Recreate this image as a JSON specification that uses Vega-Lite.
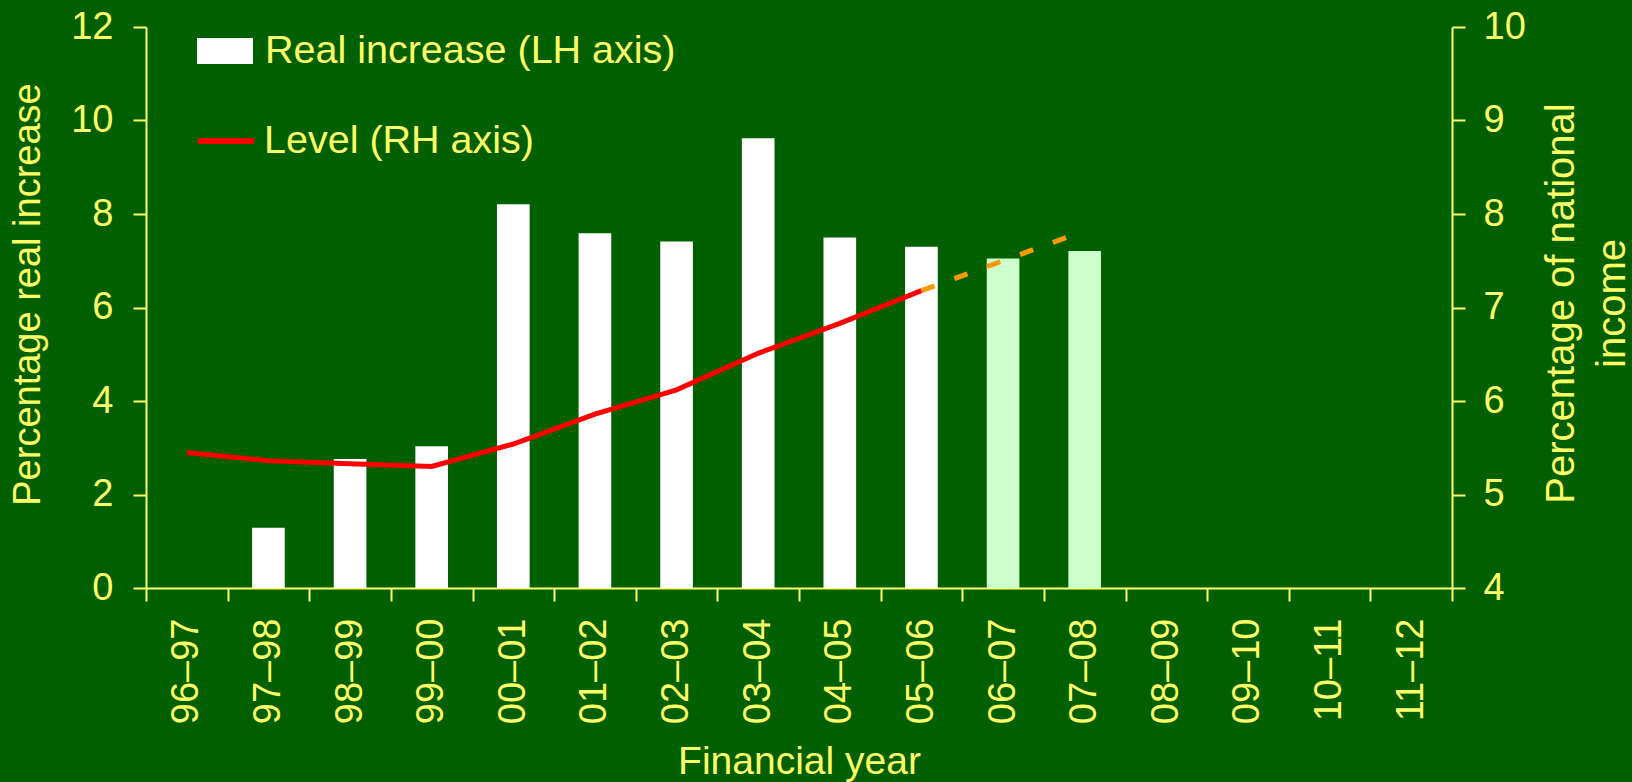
{
  "$schema": "https://vega.github.io/schema/vega-lite/v6.json",
  "width": 1306,
  "height": 561,
  "autosize": {"type": "none"},
  "padding": {"left": 146, "top": 27, "right": 180, "bottom": 194},
  "background": "#006000",
  "config": {
    "font": "Liberation Sans",
    "view": {"stroke": null},
    "axis": {
      "domainColor": "#FFFF66", "domainWidth": 2,
      "tickColor": "#FFFF66", "tickWidth": 2, "tickSize": 13,
      "labelColor": "#FFFF66", "labelFontSize": 38, "labelFont": "Liberation Sans",
      "titleColor": "#FFFF66", "titleFontSize": 38, "titleFont": "Liberation Sans",
      "titleFontWeight": "normal", "grid": false
    },
    "legend": {
      "labelFont": "Liberation Sans", "labelFontSize": 39.5, "labelColor": "#FFFF66",
      "labelLimit": 900, "padding": 0
    }
  },
  "datasets": {
    "bars": [
      {"year": "97–98", "increase": 1.29, "status": "Real increase (LH axis)"},
      {"year": "98–99", "increase": 2.76, "status": "Real increase (LH axis)"},
      {"year": "99–00", "increase": 3.03, "status": "Real increase (LH axis)"},
      {"year": "00–01", "increase": 8.21, "status": "Real increase (LH axis)"},
      {"year": "01–02", "increase": 7.59, "status": "Real increase (LH axis)"},
      {"year": "02–03", "increase": 7.41, "status": "Real increase (LH axis)"},
      {"year": "03–04", "increase": 9.62, "status": "Real increase (LH axis)"},
      {"year": "04–05", "increase": 7.50, "status": "Real increase (LH axis)"},
      {"year": "05–06", "increase": 7.30, "status": "Real increase (LH axis)"},
      {"year": "06–07", "increase": 7.05, "status": "Projected"},
      {"year": "07–08", "increase": 7.21, "status": "Projected"}
    ],
    "level": [
      {"year": "96–97", "level": 5.45, "segment": "actual"},
      {"year": "97–98", "level": 5.36, "segment": "actual"},
      {"year": "98–99", "level": 5.33, "segment": "actual"},
      {"year": "99–00", "level": 5.30, "segment": "actual"},
      {"year": "00–01", "level": 5.54, "segment": "actual"},
      {"year": "01–02", "level": 5.86, "segment": "actual"},
      {"year": "02–03", "level": 6.12, "segment": "actual"},
      {"year": "03–04", "level": 6.51, "segment": "actual"},
      {"year": "04–05", "level": 6.83, "segment": "actual"},
      {"year": "05–06", "level": 7.18, "segment": "actual"},
      {"year": "05–06", "level": 7.18, "segment": "projected"},
      {"year": "06–07", "level": 7.50, "segment": "projected"},
      {"year": "07–08", "level": 7.82, "segment": "projected"}
    ]
  },
  "layer": [
    {
      "data": {"name": "bars"},
      "mark": {"type": "bar", "width": {"band": 0.4}},
      "encoding": {
        "x": {
          "field": "year", "type": "ordinal", "sort": null,
          "scale": {"domain": ["96–97","97–98","98–99","99–00","00–01","01–02","02–03","03–04","04–05","05–06","06–07","07–08","08–09","09–10","10–11","11–12"], "paddingInner": 0, "paddingOuter": 0},
          "axis": {"title": "Financial year", "titleFontSize": 39, "labelAngle": -90, "tickBand": "extent", "labelPadding": 17, "titlePadding": 19}
        },
        "y": {
          "field": "increase", "type": "quantitative",
          "scale": {"domain": [0, 12], "nice": false},
          "axis": {"title": "Percentage real increase", "values": [0, 2, 4, 6, 8, 10, 12], "labelPadding": 20, "titlePadding": 23, "titleY": 267}
        },
        "fill": {
          "field": "status", "type": "nominal",
          "scale": {"domain": ["Real increase (LH axis)", "Projected"], "range": ["#FFFFFF", "#CCFFCC"]},
          "legend": {"orient": "none", "legendX": 51, "legendY": -4, "values": ["Real increase (LH axis)"], "title": null, "symbolType": "M-1,-0.464H1V0.464H-1Z", "symbolSize": 3136, "symbolStrokeWidth": 0, "symbolOpacity": 1, "labelOffset": 12}
        }
      }
    },
    {
      "data": {"name": "level"},
      "layer": [
        {
          "transform": [{"filter": "datum.segment === 'actual'"}],
          "mark": {"type": "line", "strokeWidth": 5, "strokeCap": "butt"},
          "encoding": {
            "x": {"field": "year", "type": "ordinal", "sort": null},
            "y": {
              "field": "level", "type": "quantitative",
              "scale": {"domain": [4, 10], "nice": false, "zero": false},
              "axis": {"orient": "right", "title": ["Percentage of national", "income"], "titleFontSize": 40, "titleAngle": 270, "titleAlign": "center", "titleBaseline": "alphabetic", "titleX": 121, "titleY": 276, "titleLineHeight": 51, "values": [4, 5, 6, 7, 8, 9, 10], "format": "d", "labelPadding": 18}
            },
            "stroke": {
              "datum": "Level (RH axis)", "type": "nominal",
              "scale": {"range": ["#FF0000"]},
              "legend": {"orient": "none", "legendX": 49, "legendY": 83, "title": null, "symbolType": "stroke", "symbolSize": 3136, "symbolStrokeWidth": 6, "symbolOpacity": 1, "labelOffset": 7}
            }
          }
        },
        {
          "transform": [{"filter": "datum.segment === 'projected'"}],
          "mark": {"type": "line", "color": "#FF9900", "strokeWidth": 5, "strokeDash": [14, 21], "strokeCap": "butt"},
          "encoding": {
            "x": {"field": "year", "type": "ordinal", "sort": null},
            "y": {"field": "level", "type": "quantitative"}
          }
        }
      ]
    }
  ],
  "resolve": {"scale": {"y": "independent"}}
}
